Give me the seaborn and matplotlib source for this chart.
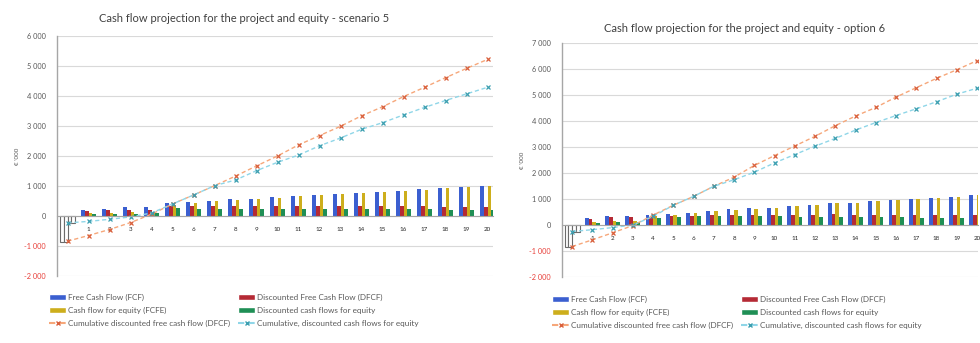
import matplotlib
matplotlib.use("Agg")
import matplotlib.pyplot as plt
import pandas as pd
import seaborn as sns
from matplotlib.patches import Patch
from matplotlib.lines import Line2D

# ---- data (thousands) ----
years = list(range(21))
year_labels = [""] + [str(y) for y in range(1, 21)]

# scenario 5
s5_fcf = [-850, 200, 250, 290, 310, 420, 460, 510, 570, 570, 620, 670, 690, 730, 780, 800, 840, 890, 930, 970, 1010]
s5_dfcf = [-850, 170, 190, 200, 210, 350, 350, 350, 350, 340, 340, 340, 330, 330, 330, 320, 320, 320, 310, 310, 300]
s5_fcfe = [-230, 90, 110, 130, 150, 380, 440, 490, 550, 560, 610, 660, 690, 720, 770, 790, 830, 880, 920, 960, 1000]
s5_dfcfe = [-230, 60, 70, 80, 90, 260, 250, 250, 250, 250, 250, 250, 240, 240, 230, 230, 220, 220, 210, 210, 200]
s5_cum_dfcf = [-840, -650, -450, -220, 60, 400, 700, 1010, 1330, 1670, 2000, 2370, 2680, 2990, 3340, 3640, 3980, 4290, 4610, 4920, 5220]
s5_cum_dfcfe = [-230, -180, -110, -30, 100, 400, 700, 1010, 1200, 1510, 1790, 2030, 2340, 2600, 2890, 3110, 3370, 3620, 3850, 4070, 4290]

# option 6
o6_fcf = [-830, 280, 340, 360, 380, 410, 480, 550, 600, 640, 670, 725, 760, 850, 850, 915, 955, 1000, 1055, 1080, 1145]
o6_dfcf = [-830, 250, 290, 290, 300, 330, 350, 370, 380, 390, 390, 400, 400, 420, 400, 400, 400, 400, 390, 380, 380]
o6_fcfe = [-250, 120, 150, 170, 330, 380, 470, 540, 590, 630, 670, 720, 760, 840, 850, 910, 950, 1000, 1050, 1080, 1140]
o6_dfcfe = [-250, 80, 100, 110, 260, 300, 330, 340, 330, 330, 330, 320, 320, 310, 310, 300, 290, 280, 280, 270, 260]
o6_cum_dfcf = [-830, -570, -300, -20, 380, 760, 1100, 1490, 1840, 2290, 2670, 3040, 3410, 3820, 4190, 4520, 4920, 5280, 5640, 5970, 6320]
o6_cum_dfcfe = [-250, -180, -100, 0, 330, 760, 1100, 1490, 1740, 2030, 2390, 2710, 3030, 3330, 3650, 3940, 4210, 4470, 4740, 5030, 5260]

bar_names = ["Free Cash Flow (FCF)", "Discounted Free Cash Flow (DFCF)",
             "Cash flow for equity (FCFE)", "Discounted cash flows for equity"]
bar_colors = ["#3b5fd0", "#b52a35", "#cdae1c", "#1f8f55"]
cum_names = ["Cumulative discounted free cash flow (DFCF)",
             "Cumulative, discounted cash flows for equity"]
cum_line_colors = ["#f6a77a", "#8fd6e8"]
cum_marker_colors = ["#d9603c", "#3c9fb0"]

FONT = ["Lato", "DejaVu Sans"]

sns.set_theme(style="white")
plt.rcParams["font.family"] = FONT


def fmt(v):
    s = f"{abs(v):,.0f}".replace(",", " ")
    return ("-" + s) if v < 0 else s


def draw(ax, bars, cums, title, ylim, xmax, title_x, title_pad):
    df = pd.DataFrame({
        "year": years * 4,
        "series": sum([[n] * len(years) for n in bar_names], []),
        "value": sum([list(b) for b in bars], []),
    })
    sns.barplot(data=df, x="year", y="value", hue="series", hue_order=bar_names,
                palette=bar_colors, order=years, width=0.74, saturation=1,
                legend=False, ax=ax, linewidth=0)
    for p in ax.patches:
        if p.get_height() < 0:
            p.set_facecolor("white")
            p.set_edgecolor("#6b6b6b")
            p.set_linewidth(0.8)
    for vals, lc, mc in zip(cums, cum_line_colors, cum_marker_colors):
        sns.lineplot(x=years, y=vals, ax=ax, color=lc, linewidth=1.0,
                     linestyle=(0, (3, 2)), marker="x", markersize=3,
                     markeredgecolor=mc, markeredgewidth=0.9)

    ax.set_ylim(*ylim)
    ax.set_xlim(-0.5, xmax)
    ticks = list(range(ylim[0], ylim[1] + 1, 1000))
    ax.set_yticks(ticks)
    ax.set_yticklabels([fmt(t) for t in ticks])
    for lab, t in zip(ax.get_yticklabels(), ticks):
        lab.set_color("#e8403a" if t < 0 else "#595959")
    ax.yaxis.grid(True, color="#d9d9d9", linewidth=0.8)
    ax.set_axisbelow(True)
    ax.set_xticks(years)
    ax.set_xticklabels(year_labels, color="#595959")
    ax.tick_params(axis="both", length=0)
    ax.tick_params(axis="x", labelsize=4.5, pad=8)
    ax.tick_params(axis="y", labelsize=5.3, pad=8)
    for s in ("top", "right"):
        ax.spines[s].set_visible(False)
    ax.spines["left"].set_color("#a6a6a6")
    ax.spines["left"].set_linewidth(1.0)
    ax.spines["bottom"].set_position(("data", 0))
    ax.spines["bottom"].set_color("#a6a6a6")
    ax.spines["bottom"].set_linewidth(0.8)
    ax.set_xlabel("")
    ax.set_ylabel("€ '000", fontsize=4.5, color="#595959", labelpad=3)
    ax.set_title(title, fontsize=8, color="#404040", x=title_x, pad=title_pad)


fig = plt.figure(figsize=(9.8, 3.43), dpi=100)
ax1 = fig.add_axes([57 / 980, 67 / 343, 436 / 980, 240 / 343])
ax2 = fig.add_axes([562 / 980, 66 / 343, 416 / 980, 234 / 343])

draw(ax1, [s5_fcf, s5_dfcf, s5_fcfe, s5_dfcfe], [s5_cum_dfcf, s5_cum_dfcfe],
     "Cash flow projection for the project and equity - scenario 5", (-2000, 6000), 20.26,
     0.43, 10)
draw(ax2, [o6_fcf, o6_dfcf, o6_fcfe, o6_dfcfe], [o6_cum_dfcf, o6_cum_dfcfe],
     "Cash flow projection for the project and equity - option 6", (-2000, 7000), 20.05,
     0.44, 8)


def legend_for(ax, x0, y0):
    h = [Patch(facecolor=bar_colors[0]), Patch(facecolor=bar_colors[2]),
         Line2D([], [], color=cum_line_colors[0], linestyle=(0, (3, 2)), marker="x",
                markersize=3, markeredgecolor=cum_marker_colors[0]),
         Patch(facecolor=bar_colors[1]), Patch(facecolor=bar_colors[3]),
         Line2D([], [], color=cum_line_colors[1], linestyle=(0, (3, 2)), marker="x",
                markersize=3, markeredgecolor=cum_marker_colors[1])]
    l = [bar_names[0], bar_names[2], cum_names[0], bar_names[1], bar_names[3], cum_names[1]]
    ax.legend(h, l, ncol=2, loc="upper left", bbox_to_anchor=(x0 / 980, 1 - y0 / 343),
              bbox_transform=fig.transFigure, frameon=False, fontsize=5.9,
              handlelength=2.1, handleheight=0.7, handletextpad=0.2,
              labelspacing=0.72, columnspacing=1.0, borderaxespad=0, borderpad=0,
              labelcolor="#595959")


legend_for(ax1, 49, 294)
legend_for(ax2, 552, 296)

fig.savefig("out.png", dpi=100, facecolor="white")
